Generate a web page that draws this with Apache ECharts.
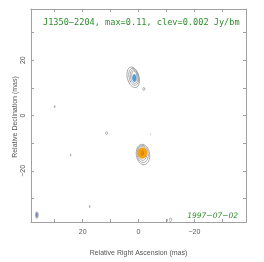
<!DOCTYPE html>
<html><head><meta charset="utf-8">
<script src="https://cdn.jsdelivr.net/npm/echarts@6/dist/echarts.min.js"></script>
<style>html,body{margin:0;padding:0;background:#fff}#c{width:264px;height:262px}</style>
</head><body><div id="c"></div>
<script>
// Contour ellipses (mas): x, y, semi-axis rx, ry, rotation(deg)
var contourX   = [1.9, 1.7, 1.6, 1.5, -1.6, -1.5, -1.4, 30.0, 24.3, 11.4, -4.3, 17.5, -1.9, -11.5, -10.2, 36.4];
var contourY   = [13.8, 14.0, 14.1, 14.2, -14.1, -13.9, -13.7, 3.2, -14.3, -6.4, -6.8, -32.9, 9.6, -37.7, -38.0, -36.0];
var contourRx  = [2.1, 1.7, 1.3, 0.9, 2.4, 2.0, 1.6, 0.15, 0.15, 0.4, 0.1, 0.12, 0.4, 0.4, 0.2, 0.5];
var contourRy  = [3.8, 3.1, 2.5, 1.9, 3.7, 3.1, 2.5, 0.4, 0.35, 0.5, 0.1, 0.4, 0.5, 0.7, 0.4, 1.2];
var contourRot = [-15, -12, -10, -8, -8, -6, -5, 0, 0, 0, 0, 0, 0, 0, 20, 0];
// Filled peaks
var fillX     = [1.5, -1.4, -1.4, 36.4];
var fillY     = [13.6, -13.6, -13.6, -36.0];
var fillRx    = [0.7, 1.7, 0.6, 0.35];
var fillRy    = [1.4, 2.0, 1.0, 1.0];
var fillColor = ['#4a9fe0', '#f5a010', '#e08a00', '#6d86a8'];
// Axis tick labels
var tickLabels = [20, 0, -20];
var titleText = 'J1350\u22122204, max=0.11, clev=0.002 Jy/bm';
var dateText = '1997\u221207\u221202';
var yName = 'Relative Declination (mas)';
var xName = 'Relative Right Ascension (mas)';

var AX = {min: -38.5, max: 38.5};
function lbl(v){ return tickLabels.indexOf(v) >= 0 ? String(v).replace('-', '\u2212') : ''; }
function mk(arr){ var d=[]; for (var i=0;i<arr[0].length;i++){ d.push(arr.map(function(a){return a[i];})); } return d; }

var contourData = mk([contourX, contourY, contourRx, contourRy, contourRot]);
var fillData = mk([fillX, fillY, fillRx, fillRy, fillColor]);

function ell(params, api, isFill){
  var c = api.coord([api.value(0), api.value(1)]);
  var s = api.size([api.value(2), api.value(3)]);
  var rx = Math.abs(s[0]), ry = Math.abs(s[1]);
  var style = isFill ? {fill: fillData[params.dataIndex][4], stroke: null}
                     : {fill: null, stroke: '#9a9a9a', lineWidth: 0.8};
  return {type: 'ellipse', x: c[0], y: c[1], rotation: isFill ? 0 : -api.value(4) * Math.PI / 180,
          shape: {cx: 0, cy: 0, rx: rx, ry: ry}, style: style};
}

var axisCommon = {type: 'value', min: AX.min, max: AX.max, minInterval: 10, maxInterval: 10,
  splitLine: {show: false},
  axisLine: {show: true, onZero: false, lineStyle: {color: '#a0a0a0', width: 1}},
  axisTick: {show: true, inside: true, length: 3, lineStyle: {color: '#a0a0a0'}}};

var chart = echarts.init(document.getElementById('c'), null, {renderer: 'canvas'});
chart.setOption({
  animation: false,
  grid: {left: 31, top: 9, width: 215, height: 214, containLabel: false},
  title: [{text: titleText, left: 38, top: 13,
           textStyle: {fontFamily: 'DejaVu Sans Mono', fontSize: 8.6, fontWeight: 'normal', color: '#2e8b2e'}},
          {text: dateText, right: 21, top: 207,
           textStyle: {fontFamily: 'DejaVu Sans', fontStyle: 'italic', fontSize: 7.5, fontWeight: 'normal', color: '#2e8b2e'}}],
  graphic: [{type: 'text', x: 15, y: 117, rotation: Math.PI / 2,
             style: {text: yName, fontFamily: 'Liberation Sans', fontSize: 7, fill: '#555', align: 'center', verticalAlign: 'middle'}}],
  xAxis: [
    Object.assign({}, axisCommon, {position: 'bottom', inverse: true,
      name: xName, nameLocation: 'middle', nameGap: 28,
      nameTextStyle: {fontFamily: 'Liberation Sans', fontSize: 7, color: '#555'},
      axisLabel: {formatter: lbl, margin: 7, fontFamily: 'Liberation Sans', fontSize: 7, color: '#555'}}),
    Object.assign({}, axisCommon, {position: 'top', inverse: true, axisLabel: {show: false}})
  ],
  yAxis: [
    Object.assign({}, axisCommon, {position: 'left',
      axisLabel: {formatter: lbl, rotate: 90, margin: 4, fontFamily: 'Liberation Sans', fontSize: 7, color: '#555'}}),
    Object.assign({}, axisCommon, {position: 'right', axisLabel: {show: false}})
  ],
  series: [
    {type: 'custom', xAxisIndex: 0, yAxisIndex: 0, data: contourData, encode: {x: 0, y: 1},
     renderItem: function(p, api){ return ell(p, api, false); }, z: 2},
    {type: 'custom', xAxisIndex: 0, yAxisIndex: 0, data: fillData.map(function(d){return d.slice(0,4);}), encode: {x: 0, y: 1},
     renderItem: function(p, api){ return ell(p, api, true); }, z: 3}
  ]
});
</script></body></html>
